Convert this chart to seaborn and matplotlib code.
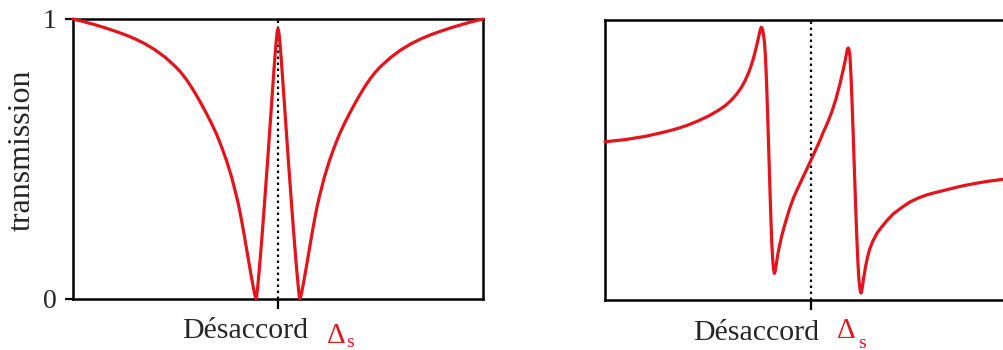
import matplotlib
matplotlib.use("Agg")
import matplotlib.pyplot as plt
import seaborn as sns
import pandas as pd

# ---- data ----
left_x = [-1.00, -0.95, -0.90, -0.85, -0.80, -0.75, -0.70, -0.65, -0.60, -0.55,
          -0.50, -0.475, -0.45, -0.425, -0.40, -0.375, -0.35, -0.325, -0.30, -0.275,
          -0.25, -0.225, -0.20, -0.19, -0.18, -0.17, -0.16, -0.15, -0.14, -0.13,
          -0.125, -0.12, -0.115, -0.111, -0.107, -0.104, -0.100, -0.095, -0.090, -0.085,
          -0.080, -0.070, -0.060, -0.050, -0.040, -0.030, -0.020, -0.015, -0.010, -0.006,
          -0.003, 0.000, 0.003, 0.006, 0.010, 0.015, 0.020, 0.030, 0.040, 0.050,
          0.060, 0.070, 0.080, 0.085, 0.090, 0.095, 0.100, 0.104, 0.107, 0.111,
          0.115, 0.12, 0.125, 0.13, 0.14, 0.15, 0.16, 0.17, 0.18, 0.19,
          0.20, 0.225, 0.25, 0.275, 0.30, 0.325, 0.35, 0.375, 0.40, 0.425,
          0.45, 0.475, 0.50, 0.55, 0.60, 0.65, 0.70, 0.75, 0.80, 0.85,
          0.90, 0.95, 1.00]
left_y = [1.000, 0.991, 0.981, 0.970, 0.958, 0.945, 0.930, 0.912, 0.890, 0.863,
          0.830, 0.810, 0.787, 0.760, 0.730, 0.698, 0.664, 0.628, 0.589, 0.543,
          0.492, 0.432, 0.360, 0.327, 0.290, 0.250, 0.208, 0.165, 0.122, 0.080,
          0.060, 0.040, 0.022, 0.009, 0.002, 0.010, 0.035, 0.075, 0.115, 0.160,
          0.205, 0.300, 0.400, 0.500, 0.605, 0.710, 0.815, 0.865, 0.910, 0.940,
          0.958, 0.964, 0.958, 0.940, 0.910, 0.865, 0.815, 0.710, 0.605, 0.500,
          0.400, 0.300, 0.205, 0.160, 0.115, 0.075, 0.035, 0.010, 0.002, 0.009,
          0.022, 0.040, 0.060, 0.080, 0.122, 0.165, 0.208, 0.250, 0.290, 0.327,
          0.360, 0.432, 0.492, 0.543, 0.589, 0.628, 0.664, 0.698, 0.730, 0.760,
          0.787, 0.810, 0.830, 0.863, 0.890, 0.912, 0.930, 0.945, 0.958, 0.970,
          0.981, 0.991, 1.000]

right_x = [-1.00, -0.90, -0.80, -0.70, -0.65, -0.60, -0.55, -0.50, -0.45, -0.42,
           -0.39, -0.36, -0.34, -0.32, -0.30, -0.29, -0.28, -0.27, -0.26, -0.255,
           -0.25, -0.246, -0.242, -0.238, -0.234, -0.230, -0.226, -0.222, -0.218, -0.214,
           -0.210, -0.206, -0.202, -0.198, -0.194, -0.190, -0.186, -0.182, -0.178, -0.174,
           -0.170, -0.165, -0.160, -0.150, -0.143, -0.130, -0.115, -0.102, -0.085, -0.070,
           -0.054, -0.035, -0.020, 0.000, 0.020, 0.044, 0.060, 0.080, 0.100, 0.120,
           0.140, 0.155, 0.165, 0.172, 0.177, 0.181, 0.185, 0.189, 0.193, 0.198,
           0.204, 0.210, 0.216, 0.222, 0.228, 0.233, 0.238, 0.243, 0.248, 0.255,
           0.265, 0.275, 0.285, 0.300, 0.320, 0.340, 0.370, 0.400, 0.440, 0.480,
           0.520, 0.560, 0.600, 0.660, 0.720, 0.780, 0.850, 0.920, 1.000]
right_y = [0.565, 0.573, 0.585, 0.602, 0.612, 0.624, 0.639, 0.656, 0.677, 0.692,
           0.711, 0.736, 0.757, 0.783, 0.817, 0.838, 0.862, 0.890, 0.920, 0.937,
           0.953, 0.966, 0.974, 0.972, 0.962, 0.945, 0.920, 0.880, 0.820, 0.740,
           0.650, 0.555, 0.460, 0.365, 0.275, 0.200, 0.145, 0.110, 0.095, 0.102,
           0.120, 0.145, 0.168, 0.203, 0.226, 0.262, 0.300, 0.330, 0.365, 0.390,
           0.415, 0.445, 0.468, 0.500, 0.532, 0.571, 0.600, 0.632, 0.670, 0.715,
           0.770, 0.818, 0.852, 0.878, 0.897, 0.900, 0.893, 0.870, 0.820, 0.730,
           0.610, 0.480, 0.350, 0.230, 0.130, 0.070, 0.037, 0.025, 0.040, 0.075,
           0.120, 0.155, 0.182, 0.210, 0.238, 0.258, 0.285, 0.308, 0.330, 0.350,
           0.364, 0.375, 0.383, 0.394, 0.405, 0.414, 0.423, 0.430, 0.437]

y_ticks = [0, 1]
y_ticklabels = ["0", "1"]
y_label = "transmission"
x_label = "Désaccord"
delta_main = "Δ"
delta_sub = "s"

# ---- style ----
sns.set_style("white")
plt.rcParams["font.family"] = ["Liberation Serif", "DejaVu Serif"]

RED = "#e3141c"
W, H = 1004, 350

fig = plt.figure(figsize=(W / 100, H / 100), dpi=100)
fig.patch.set_facecolor("white")

ax1 = fig.add_axes([73 / W, 1 - 299 / H, 410 / W, 280 / H])
ax2 = fig.add_axes([605 / W, 1 - 300 / H, 412 / W, 280 / H])

df_l = pd.DataFrame({"x": left_x, "y": left_y})
df_r = pd.DataFrame({"x": right_x, "y": right_y})

sns.lineplot(data=df_l, x="x", y="y", ax=ax1, color=RED, lw=2.3, estimator=None)
sns.lineplot(data=df_r, x="x", y="y", ax=ax2, color=RED, lw=2.3, estimator=None)

for ax in (ax1, ax2):
    ax.set_xlim(-1, 1)
    ax.set_ylim(0, 1)
    ax.set_xlabel("")
    ax.set_ylabel("")
    for ln in ax.lines:
        ln.set_clip_on(False)
        ln.set_zorder(3)
        ln.set_solid_joinstyle("round")
    ax.axvline(0, color="black", lw=1.6, ls=(0, (1.1, 1.6)), zorder=2)
    for sp in ax.spines.values():
        sp.set_visible(True)
        sp.set_color("black")
        sp.set_linewidth(1.8)
    ax.set_xticks([0])
    ax.set_xticklabels([""])
    ax.tick_params(axis="x", direction="out", length=7, width=1.6, color="black",
                   bottom=True)

ax1.set_yticks(y_ticks)
ax1.set_yticklabels(y_ticklabels, fontsize=20)
ax1.tick_params(axis="y", direction="out", length=6, width=1.6, color="black",
                left=True, pad=6)
ax2.set_yticks([])

# y label
fig.text(22 / W, 1 - 150 / H, y_label, rotation=90, ha="center", va="center",
         fontsize=23)

# x labels
fig.text(182.5 / W, 1 - 338.5 / H, x_label, ha="left", va="baseline", fontsize=21.5)
fig.text(326.5 / W, 1 - 343 / H, delta_main, ha="left", va="baseline",
         fontsize=21, color=RED)
fig.text(346 / W, 1 - 347 / H, delta_sub, ha="left", va="baseline",
         fontsize=14, color=RED)
fig.text(693 / W, 1 - 340 / H, x_label, ha="left", va="baseline", fontsize=21.5)
fig.text(836.5 / W, 1 - 338 / H, delta_main, ha="left", va="baseline",
         fontsize=21, color=RED)
fig.text(858.5 / W, 1 - 348 / H, delta_sub, ha="left", va="baseline",
         fontsize=14, color=RED)

fig.savefig("out.png", dpi=100, facecolor="white")
